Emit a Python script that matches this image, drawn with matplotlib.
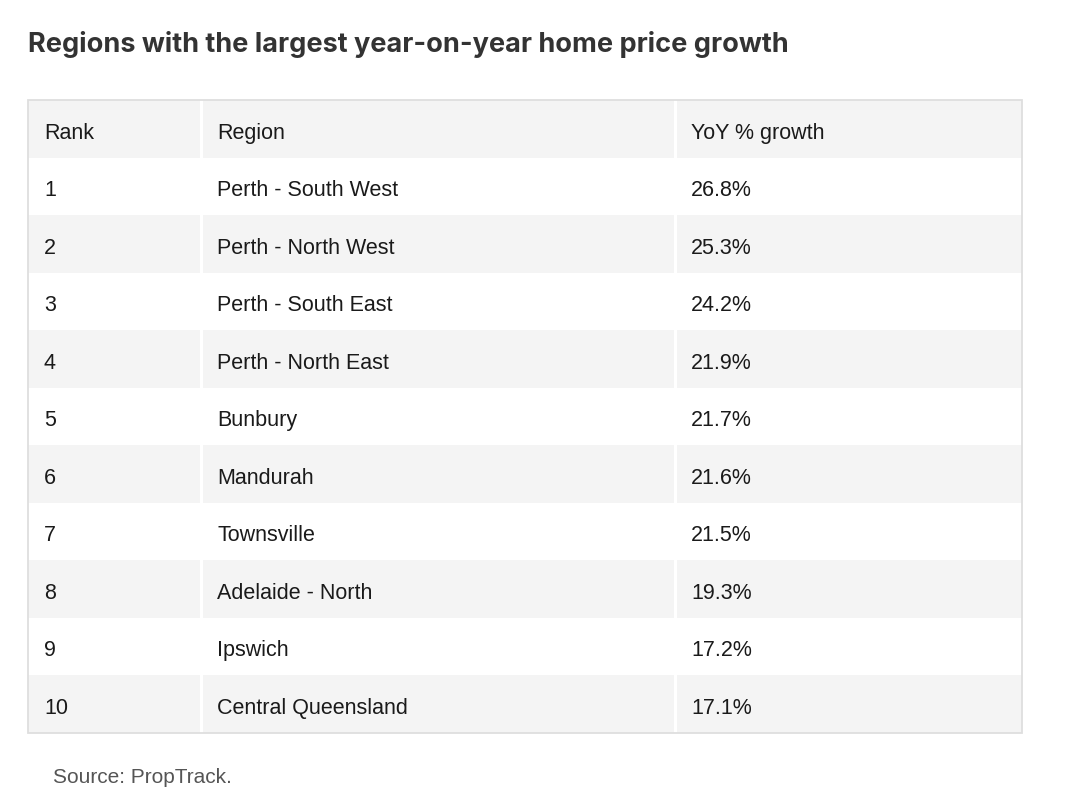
import matplotlib
matplotlib.use("Agg")
import matplotlib.pyplot as plt
from matplotlib.patches import Rectangle

# 표 데이터
title = "Regions with the largest year-on-year home price growth"
headers = ["Rank", "Region", "YoY % growth"]
ranks = [1, 2, 3, 4, 5, 6, 7, 8, 9, 10]
regions = [
    "Perth - South West",
    "Perth - North West",
    "Perth - South East",
    "Perth - North East",
    "Bunbury",
    "Mandurah",
    "Townsville",
    "Adelaide - North",
    "Ipswich",
    "Central Queensland",
]
growth = [26.8, 25.3, 24.2, 21.9, 21.7, 21.6, 21.5, 19.3, 17.2, 17.1]
source = "Source: PropTrack."

# 배치(픽셀 좌표)
W, H = 1080, 812
col_edges = [28, 201, 675, 1022]
text_pad = 16
top = 101
row_h = 57.5
gap = 3
gray = "#f4f4f4"
body_font = ["Liberation Sans", "DejaVu Sans"]

fig = plt.figure(figsize=(W / 100, H / 100), dpi=100)
ax = fig.add_axes([0, 0, 1, 1])
ax.set_xlim(0, W)
ax.set_ylim(H, 0)
ax.axis("off")

ax.text(28, 45, title, fontsize=19.5, fontweight="bold", color="#333333",
        family=["Inter", "DejaVu Sans"], va="center", ha="left")

rows = [headers] + [[str(r), reg, f"{g:.1f}%"] for r, reg, g in zip(ranks, regions, growth)]

for i, row in enumerate(rows):
    y0 = top + i * row_h
    if i % 2 == 0:
        # 회색 줄: 칸 사이를 흰 틈으로 나눠 칠한다
        for c in range(3):
            x0 = col_edges[c] + (gap / 2 if c > 0 else 0)
            x1 = col_edges[c + 1] - (gap / 2 if c < 2 else 0)
            ax.add_patch(Rectangle((x0, y0), x1 - x0, row_h, facecolor=gray,
                                   edgecolor="none", zorder=1))
    for c, txt in enumerate(row):
        ax.text(col_edges[c] + text_pad, y0 + row_h / 2 + 1, txt, fontsize=15.5,
                color="#1a1a1a", family=body_font, va="center_baseline",
                ha="left", zorder=3)

# 바깥 테두리
ax.add_patch(Rectangle((col_edges[0], top), col_edges[-1] - col_edges[0],
                       row_h * len(rows), facecolor="none", edgecolor="#dedede",
                       linewidth=1.3, zorder=2))

ax.text(53, 776, source, fontsize=15, color="#555555", family=body_font,
        va="center_baseline", ha="left")

fig.savefig("out.png", dpi=100)
